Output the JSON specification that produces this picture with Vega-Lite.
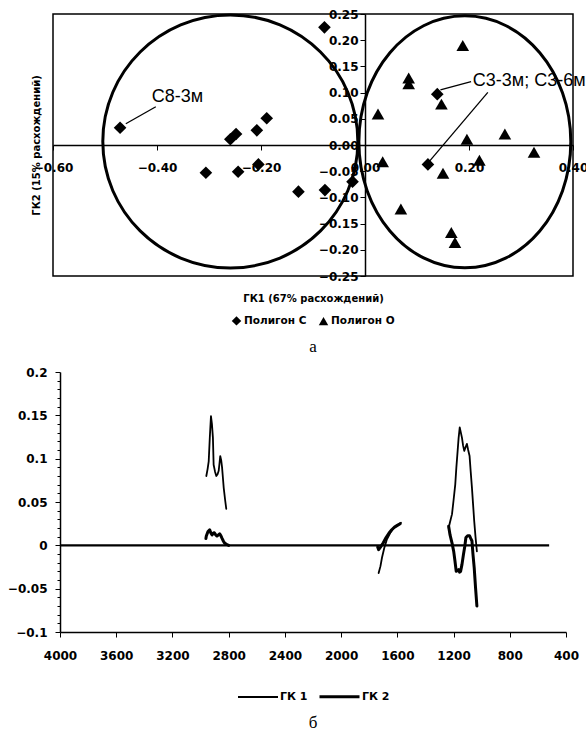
{
  "$schema": "https://vega.github.io/schema/vega-lite/v6.json",
  "background": "white",
  "padding": {"left": 7, "top": 7, "right": 0, "bottom": 0},
  "bounds": "flush",
  "center": true,
  "spacing": 96,
  "resolve": {
    "scale": {"shape": "independent", "color": "independent", "strokeWidth": "independent"},
    "legend": {"shape": "independent", "color": "independent", "strokeWidth": "independent"}
  },
  "config": {
    "font": "DejaVu Sans",
    "legend": {"layout": {"bottom": {"anchor": "middle", "direction": "horizontal"}}}
  },
  "datasets": {
    "scores": [
      {"x": -0.471, "y": 0.033, "g": "Полигон С"},
      {"x": -0.078, "y": 0.2245, "g": "Полигон С"},
      {"x": -0.259, "y": 0.011, "g": "Полигон С"},
      {"x": -0.248, "y": 0.021, "g": "Полигон С"},
      {"x": -0.208, "y": 0.028, "g": "Полигон С"},
      {"x": -0.189, "y": 0.051, "g": "Полигон С"},
      {"x": -0.306, "y": -0.053, "g": "Полигон С"},
      {"x": -0.244, "y": -0.051, "g": "Полигон С"},
      {"x": -0.205, "y": -0.037, "g": "Полигон С"},
      {"x": -0.128, "y": -0.089, "g": "Полигон С"},
      {"x": -0.077, "y": -0.086, "g": "Полигон С"},
      {"x": -0.024, "y": -0.07, "g": "Полигон С"},
      {"x": 0.121, "y": -0.037, "g": "Полигон С"},
      {"x": 0.139, "y": 0.097, "g": "Полигон С"},
      {"x": 0.188, "y": 0.19, "g": "Полигон О"},
      {"x": 0.084, "y": 0.128, "g": "Полигон О"},
      {"x": 0.084, "y": 0.117, "g": "Полигон О"},
      {"x": 0.147, "y": 0.078, "g": "Полигон О"},
      {"x": 0.025, "y": 0.059, "g": "Полигон О"},
      {"x": 0.269, "y": 0.021, "g": "Полигон О"},
      {"x": 0.196, "y": 0.011, "g": "Полигон О"},
      {"x": 0.325, "y": -0.014, "g": "Полигон О"},
      {"x": 0.034, "y": -0.032, "g": "Полигон О"},
      {"x": 0.22, "y": -0.029, "g": "Полигон О"},
      {"x": 0.15, "y": -0.054, "g": "Полигон О"},
      {"x": 0.069, "y": -0.122, "g": "Полигон О"},
      {"x": 0.166, "y": -0.167, "g": "Полигон О"},
      {"x": 0.173, "y": -0.186, "g": "Полигон О"}
    ],
    "leaders": [
      {"x": -0.4023, "y": 0.073, "x2": -0.46, "y2": 0.0405},
      {"x": 0.204, "y": 0.121, "x2": 0.145, "y2": 0.105},
      {"x": 0.2362, "y": 0.1003, "x2": 0.1213, "y2": -0.034}
    ],
    "labels": [
      {"x": -0.3605, "y": 0.0908, "text": "С8-3м"},
      {"x": 0.3157, "y": 0.1227, "text": "С3-3м; С3-6м"}
    ],
    "loadings": [
      {"s": "ГК 1", "seg": "A1", "w": 2959, "v": 0.08},
      {"s": "ГК 1", "seg": "A1", "w": 2950, "v": 0.088},
      {"s": "ГК 1", "seg": "A1", "w": 2942, "v": 0.097},
      {"s": "ГК 1", "seg": "A1", "w": 2934, "v": 0.125},
      {"s": "ГК 1", "seg": "A1", "w": 2926, "v": 0.149},
      {"s": "ГК 1", "seg": "A1", "w": 2919, "v": 0.14},
      {"s": "ГК 1", "seg": "A1", "w": 2912, "v": 0.124},
      {"s": "ГК 1", "seg": "A1", "w": 2907, "v": 0.093},
      {"s": "ГК 1", "seg": "A1", "w": 2897, "v": 0.085},
      {"s": "ГК 1", "seg": "A1", "w": 2888, "v": 0.08},
      {"s": "ГК 1", "seg": "A1", "w": 2879, "v": 0.082},
      {"s": "ГК 1", "seg": "A1", "w": 2871, "v": 0.086},
      {"s": "ГК 1", "seg": "A1", "w": 2865, "v": 0.095},
      {"s": "ГК 1", "seg": "A1", "w": 2860, "v": 0.103},
      {"s": "ГК 1", "seg": "A1", "w": 2853, "v": 0.098},
      {"s": "ГК 1", "seg": "A1", "w": 2847, "v": 0.09},
      {"s": "ГК 1", "seg": "A1", "w": 2841, "v": 0.078},
      {"s": "ГК 1", "seg": "A1", "w": 2835, "v": 0.066},
      {"s": "ГК 1", "seg": "A1", "w": 2825, "v": 0.052},
      {"s": "ГК 1", "seg": "A1", "w": 2817, "v": 0.042},
      {"s": "ГК 1", "seg": "A2", "w": 1733, "v": -0.032},
      {"s": "ГК 1", "seg": "A2", "w": 1720, "v": -0.024},
      {"s": "ГК 1", "seg": "A2", "w": 1709, "v": -0.014},
      {"s": "ГК 1", "seg": "A2", "w": 1693, "v": -0.003},
      {"s": "ГК 1", "seg": "A2", "w": 1674, "v": 0.007},
      {"s": "ГК 1", "seg": "A2", "w": 1650, "v": 0.0145},
      {"s": "ГК 1", "seg": "A2", "w": 1626, "v": 0.02},
      {"s": "ГК 1", "seg": "A2", "w": 1597, "v": 0.0234},
      {"s": "ГК 1", "seg": "A2", "w": 1574, "v": 0.026},
      {"s": "ГК 1", "seg": "A3", "w": 1235, "v": 0.02},
      {"s": "ГК 1", "seg": "A3", "w": 1225, "v": 0.027},
      {"s": "ГК 1", "seg": "A3", "w": 1211, "v": 0.036},
      {"s": "ГК 1", "seg": "A3", "w": 1200, "v": 0.052},
      {"s": "ГК 1", "seg": "A3", "w": 1188, "v": 0.07},
      {"s": "ГК 1", "seg": "A3", "w": 1180, "v": 0.09},
      {"s": "ГК 1", "seg": "A3", "w": 1171, "v": 0.109},
      {"s": "ГК 1", "seg": "A3", "w": 1164, "v": 0.124},
      {"s": "ГК 1", "seg": "A3", "w": 1156, "v": 0.136},
      {"s": "ГК 1", "seg": "A3", "w": 1148, "v": 0.13},
      {"s": "ГК 1", "seg": "A3", "w": 1140, "v": 0.124},
      {"s": "ГК 1", "seg": "A3", "w": 1132, "v": 0.115},
      {"s": "ГК 1", "seg": "A3", "w": 1124, "v": 0.109},
      {"s": "ГК 1", "seg": "A3", "w": 1115, "v": 0.113},
      {"s": "ГК 1", "seg": "A3", "w": 1105, "v": 0.117},
      {"s": "ГК 1", "seg": "A3", "w": 1096, "v": 0.11},
      {"s": "ГК 1", "seg": "A3", "w": 1086, "v": 0.103},
      {"s": "ГК 1", "seg": "A3", "w": 1078, "v": 0.085},
      {"s": "ГК 1", "seg": "A3", "w": 1069, "v": 0.066},
      {"s": "ГК 1", "seg": "A3", "w": 1061, "v": 0.047},
      {"s": "ГК 1", "seg": "A3", "w": 1053, "v": 0.028},
      {"s": "ГК 1", "seg": "A3", "w": 1044, "v": 0.01},
      {"s": "ГК 1", "seg": "A3", "w": 1034, "v": -0.007},
      {"s": "ГК 2", "seg": "B1", "w": 2962, "v": 0.008},
      {"s": "ГК 2", "seg": "B1", "w": 2959, "v": 0.0107},
      {"s": "ГК 2", "seg": "B1", "w": 2947, "v": 0.016},
      {"s": "ГК 2", "seg": "B1", "w": 2935, "v": 0.018},
      {"s": "ГК 2", "seg": "B1", "w": 2926, "v": 0.014},
      {"s": "ГК 2", "seg": "B1", "w": 2918, "v": 0.012},
      {"s": "ГК 2", "seg": "B1", "w": 2910, "v": 0.014},
      {"s": "ГК 2", "seg": "B1", "w": 2902, "v": 0.0145},
      {"s": "ГК 2", "seg": "B1", "w": 2892, "v": 0.012},
      {"s": "ГК 2", "seg": "B1", "w": 2883, "v": 0.0107},
      {"s": "ГК 2", "seg": "B1", "w": 2873, "v": 0.012},
      {"s": "ГК 2", "seg": "B1", "w": 2864, "v": 0.0134},
      {"s": "ГК 2", "seg": "B1", "w": 2855, "v": 0.011},
      {"s": "ГК 2", "seg": "B1", "w": 2847, "v": 0.008},
      {"s": "ГК 2", "seg": "B1", "w": 2838, "v": 0.005},
      {"s": "ГК 2", "seg": "B1", "w": 2831, "v": 0.003},
      {"s": "ГК 2", "seg": "B1", "w": 2815, "v": 0.001},
      {"s": "ГК 2", "seg": "B1", "w": 2800, "v": 0},
      {"s": "ГК 2", "seg": "B2", "w": 1740, "v": -0.002},
      {"s": "ГК 2", "seg": "B2", "w": 1733, "v": -0.005},
      {"s": "ГК 2", "seg": "B2", "w": 1720, "v": -0.002},
      {"s": "ГК 2", "seg": "B2", "w": 1700, "v": 0.003},
      {"s": "ГК 2", "seg": "B2", "w": 1680, "v": 0.009},
      {"s": "ГК 2", "seg": "B2", "w": 1660, "v": 0.014},
      {"s": "ГК 2", "seg": "B2", "w": 1640, "v": 0.018},
      {"s": "ГК 2", "seg": "B2", "w": 1620, "v": 0.021},
      {"s": "ГК 2", "seg": "B2", "w": 1600, "v": 0.023},
      {"s": "ГК 2", "seg": "B2", "w": 1580, "v": 0.025},
      {"s": "ГК 2", "seg": "B3", "w": 1235, "v": 0.022},
      {"s": "ГК 2", "seg": "B3", "w": 1225, "v": 0.012},
      {"s": "ГК 2", "seg": "B3", "w": 1210, "v": 0.002},
      {"s": "ГК 2", "seg": "B3", "w": 1199, "v": -0.007},
      {"s": "ГК 2", "seg": "B3", "w": 1190, "v": -0.018},
      {"s": "ГК 2", "seg": "B3", "w": 1181, "v": -0.03},
      {"s": "ГК 2", "seg": "B3", "w": 1172, "v": -0.029},
      {"s": "ГК 2", "seg": "B3", "w": 1164, "v": -0.028},
      {"s": "ГК 2", "seg": "B3", "w": 1157, "v": -0.031},
      {"s": "ГК 2", "seg": "B3", "w": 1150, "v": -0.03},
      {"s": "ГК 2", "seg": "B3", "w": 1140, "v": -0.022},
      {"s": "ГК 2", "seg": "B3", "w": 1130, "v": -0.011},
      {"s": "ГК 2", "seg": "B3", "w": 1120, "v": -0.001},
      {"s": "ГК 2", "seg": "B3", "w": 1112, "v": 0.009},
      {"s": "ГК 2", "seg": "B3", "w": 1100, "v": 0.011},
      {"s": "ГК 2", "seg": "B3", "w": 1086, "v": 0.011},
      {"s": "ГК 2", "seg": "B3", "w": 1078, "v": 0.008},
      {"s": "ГК 2", "seg": "B3", "w": 1069, "v": 0.005},
      {"s": "ГК 2", "seg": "B3", "w": 1062, "v": -0.01},
      {"s": "ГК 2", "seg": "B3", "w": 1053, "v": -0.026},
      {"s": "ГК 2", "seg": "B3", "w": 1044, "v": -0.048},
      {"s": "ГК 2", "seg": "B3", "w": 1034, "v": -0.07}
    ]
  },
  "vconcat": [
    {
      "width": 520,
      "height": 262,
      "view": {"stroke": "black", "strokeWidth": 1.5},
      "title": {"text": "а", "orient": "bottom", "frame": "group", "anchor": "middle", "font": "Liberation Serif", "fontSize": 17, "fontWeight": "normal", "color": "black", "offset": 10},
      "encoding": {
        "x": {
          "field": "x", "type": "quantitative",
          "scale": {"domain": [-0.6, 0.4], "nice": false, "zero": false},
          "axis": {
            "title": "ГК1 (67% расхождений)", "orient": "bottom", "offset": -131,
            "values": [-0.6, -0.4, -0.2, 0, 0.2, 0.4], "format": ".2f",
            "grid": false, "domainColor": "black", "domainWidth": 1.5,
            "tickColor": "black", "tickSize": 5, "tickWidth": 1,
            "labelFont": "DejaVu Sans", "labelFontWeight": "bold", "labelFontSize": 12, "labelColor": "black",
            "labelPadding": 12, "labelFlush": false, "labelOverlap": false,
            "titleFont": "DejaVu Sans", "titleFontWeight": "bold", "titleFontSize": 10, "titleColor": "black",
            "titleY": 148, "titleBaseline": "top"
          }
        },
        "y": {
          "field": "y", "type": "quantitative",
          "scale": {"domain": [-0.25, 0.25], "nice": false, "zero": false},
          "axis": {
            "title": "ГК2 (15% расхождений)", "orient": "left", "offset": -312,
            "values": [-0.25, -0.2, -0.15, -0.1, -0.05, 0, 0.05, 0.1, 0.15, 0.2, 0.25], "format": ".2f",
            "grid": false, "domainColor": "black", "domainWidth": 1.5,
            "tickColor": "black", "tickSize": 5, "tickWidth": 1,
            "labelFont": "DejaVu Sans", "labelFontWeight": "bold", "labelFontSize": 12, "labelColor": "black",
            "labelPadding": 2, "labelFlush": false, "labelOverlap": false,
            "titleFont": "DejaVu Sans", "titleFontWeight": "bold", "titleFontSize": 10, "titleColor": "black",
            "titleX": -329, "titleBaseline": "middle", "titleAngle": 270
          }
        }
      },
      "layer": [
        {
          "data": {"values": [{"x": -0.259, "y": 0.0067}]},
          "mark": {"type": "point", "filled": false, "stroke": "black", "strokeWidth": 3, "opacity": 1, "size": 64009,
            "shape": "M 1.008 0 C 1.008 0.5523 0.5567 1 0 1 C -0.5567 1 -1.008 0.5523 -1.008 0 C -1.008 -0.5523 -0.5567 -1 0 -1 C 0.5567 -1 1.008 -0.5523 1.008 0 Z"}
        },
        {
          "data": {"values": [{"x": 0.192, "y": 0.006}]},
          "mark": {"type": "point", "filled": false, "stroke": "black", "strokeWidth": 3, "opacity": 1, "size": 63504,
            "shape": "M 0.841 0 C 0.841 0.5523 0.4645 1 0 1 C -0.4645 1 -0.841 0.5523 -0.841 0 C -0.841 -0.5523 -0.4645 -1 0 -1 C 0.4645 -1 0.841 -0.5523 0.841 0 Z"}
        },
        {
          "data": {"name": "leaders"},
          "mark": {"type": "rule", "color": "black", "strokeWidth": 1.3},
          "encoding": {"x2": {"field": "x2"}, "y2": {"field": "y2"}}
        },
        {
          "data": {"name": "scores"},
          "mark": {"type": "point", "filled": true, "color": "black", "opacity": 1, "size": 160},
          "encoding": {
            "shape": {
              "field": "g", "type": "nominal",
              "scale": {"domain": ["Полигон С", "Полигон О"], "range": ["diamond", "triangle-up"]},
              "legend": {
                "title": null, "orient": "bottom", "direction": "horizontal", "offset": 12,
                "labelFont": "DejaVu Sans", "labelFontWeight": "bold", "labelFontSize": 10.5, "labelColor": "black",
                "symbolSize": 90, "symbolFillColor": "black", "symbolStrokeColor": "black", "labelOffset": 2, "columnPadding": 8
              }
            }
          }
        },
        {
          "data": {"name": "labels"},
          "mark": {"type": "text", "font": "Liberation Sans", "fontSize": 18, "color": "black", "align": "center", "baseline": "middle"},
          "encoding": {"text": {"field": "text"}}
        }
      ]
    },
    {
      "width": 506,
      "height": 260,
      "view": {"stroke": null},
      "title": {"text": "б", "orient": "bottom", "frame": "group", "anchor": "middle", "font": "Liberation Serif", "fontSize": 17, "fontWeight": "normal", "color": "black", "offset": 12},
      "encoding": {
        "x": {
          "field": "w", "type": "quantitative",
          "scale": {"domain": [400, 4000], "reverse": true, "nice": false, "zero": false},
          "axis": {
            "title": null, "values": [4000, 3600, 3200, 2800, 2400, 2000, 1600, 1200, 800, 400], "format": "d",
            "grid": false, "domainColor": "black", "domainWidth": 1.5,
            "tickColor": "black", "tickSize": 5, "tickWidth": 1,
            "labelFont": "DejaVu Sans", "labelFontWeight": "bold", "labelFontSize": 12, "labelColor": "black",
            "labelPadding": 13, "labelFlush": false, "labelOverlap": false
          }
        },
        "y": {
          "field": "v", "type": "quantitative",
          "scale": {"domain": [-0.1, 0.2], "nice": false, "zero": false},
          "axis": {
            "title": null,
            "values": [-0.1, -0.09, -0.08, -0.07, -0.06, -0.05, -0.04, -0.03, -0.02, -0.01, 0, 0.01, 0.02, 0.03, 0.04, 0.05, 0.06, 0.07, 0.08, 0.09, 0.1, 0.11, 0.12, 0.13, 0.14, 0.15, 0.16, 0.17, 0.18, 0.19, 0.2],
            "labelExpr": "abs(datum.value*20 - round(datum.value*20)) < 0.001 ? format(datum.value, '~g') : ''",
            "grid": false, "domainColor": "black", "domainWidth": 1.5,
            "tickColor": "black", "tickWidth": 1,
            "tickSize": {"condition": {"test": "abs(datum.value*20 - round(datum.value*20)) < 0.001", "value": 5}, "value": 3},
            "labelFont": "DejaVu Sans", "labelFontWeight": "bold", "labelFontSize": 12, "labelColor": "black",
            "labelPadding": 8, "labelFlush": false, "labelOverlap": false
          }
        }
      },
      "layer": [
        {
          "data": {"values": [{"w": 4000, "w2": 520, "v": 0}]},
          "mark": {"type": "rule", "color": "black", "strokeWidth": 2.2},
          "encoding": {"x2": {"field": "w2"}}
        },
        {
          "data": {"name": "loadings"},
          "mark": {"type": "line", "strokeJoin": "round", "strokeCap": "round"},
          "encoding": {
            "detail": {"field": "seg"},
            "color": {
              "field": "s", "type": "nominal",
              "scale": {"domain": ["ГК 1", "ГК 2"], "range": ["black", "black"]},
              "legend": {
                "title": null, "orient": "bottom", "direction": "horizontal", "offset": 14,
                "symbolType": "stroke", "symbolSize": 1600,
                "labelFont": "DejaVu Sans", "labelFontWeight": "bold", "labelFontSize": 11, "labelColor": "black",
                "labelOffset": 1, "columnPadding": 5
              }
            },
            "strokeWidth": {
              "field": "s", "type": "ordinal",
              "scale": {"domain": ["ГК 1", "ГК 2"], "range": [1.8, 3]},
              "legend": {
                "title": null, "orient": "bottom", "direction": "horizontal", "offset": 14,
                "symbolType": "stroke", "symbolSize": 1600,
                "labelFont": "DejaVu Sans", "labelFontWeight": "bold", "labelFontSize": 11, "labelColor": "black",
                "labelOffset": 1, "columnPadding": 5
              }
            }
          }
        }
      ]
    }
  ]
}
